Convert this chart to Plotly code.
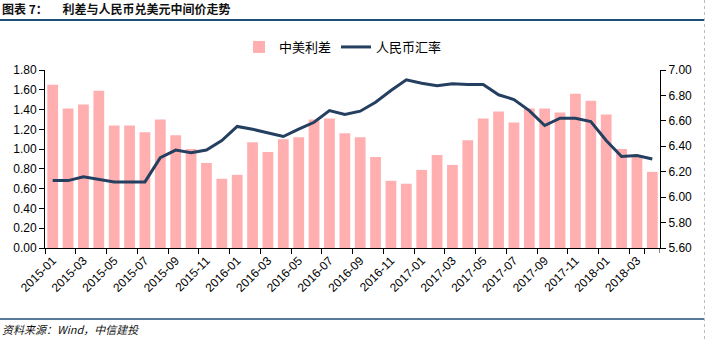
import plotly.graph_objects as go

months = [f"{y}-{m:02d}" for y in (2015, 2016, 2017, 2018) for m in range(1, 13)][:40]

spread = [1.65, 1.41, 1.45, 1.59, 1.24, 1.24, 1.17, 1.30, 1.14, 1.00,
          0.86, 0.70, 0.74, 1.07, 0.97, 1.10, 1.12, 1.30, 1.31, 1.16,
          1.12, 0.92, 0.68, 0.65, 0.79, 0.94, 0.84, 1.09, 1.31, 1.38,
          1.27, 1.41, 1.41, 1.37, 1.56, 1.49, 1.35, 1.00, 0.93, 0.77]

rate = [6.13, 6.13, 6.16, 6.14, 6.12, 6.12, 6.12, 6.31, 6.37, 6.35,
        6.37, 6.445, 6.556, 6.534, 6.506, 6.477, 6.535, 6.589, 6.681, 6.65,
        6.676, 6.747, 6.839, 6.923, 6.896, 6.876, 6.892, 6.886, 6.886, 6.805,
        6.768, 6.681, 6.563, 6.621, 6.62, 6.595, 6.445, 6.32, 6.327, 6.30]

left_ticks = [0.0, 0.2, 0.4, 0.6, 0.8, 1.0, 1.2, 1.4, 1.6, 1.8]
right_ticks = [5.6, 5.8, 6.0, 6.2, 6.4, 6.6, 6.8, 7.0]

title_text = "图表 7：\u2003 利差与人民币兑美元中间价走势"
source_text = "资料来源：Wind，中信建投"

W, H = 709, 341
L, R, T, B = 45, 49, 70, 93
pw, ph = W - L - R, H - T - B

def px(x):
    return (x - L) / pw

def py(y):
    return (H - B - y) / ph

tickfont = dict(family="Liberation Sans, Arial, sans-serif", size=12, color="#000000")

fig = go.Figure()
fig.add_trace(go.Bar(x=months, y=spread, name="中美利差",
                     marker=dict(color="#FFAFAF", line=dict(width=0)),
                     yaxis="y"))
fig.add_trace(go.Scatter(x=months, y=rate, name="人民币汇率", mode="lines",
                         line=dict(color="#243F60", width=3),
                         yaxis="y2"))

fig.update_layout(
    width=W, height=H,
    margin=dict(l=L, r=R, t=T, b=B, pad=0),
    paper_bgcolor="white", plot_bgcolor="white",
    bargap=0.3,
    showlegend=True,
    legend=dict(orientation="h", x=px(343), xanchor="center", y=py(47), yanchor="middle",
                font=dict(family="Noto Sans CJK SC, sans-serif", size=13, color="#000000"),
                bgcolor="rgba(0,0,0,0)", itemwidth=30, traceorder="normal"),
    xaxis=dict(type="category", categoryorder="array", categoryarray=months,
               tickmode="array", tickvals=months[::2], ticktext=months[::2],
               tickangle=-45, tickson="boundaries", ticks="outside", ticklen=5,
               tickcolor="#000000", showline=True, linecolor="#000000", linewidth=1,
               showgrid=False, tickfont=tickfont, range=[-0.5, 39.5]),
    yaxis=dict(range=[0, 1.8], tickvals=left_ticks,
               ticktext=[f"{v:.2f}" for v in left_ticks],
               ticks="outside", ticklen=5, tickcolor="#000000",
               showline=True, linecolor="#000000", linewidth=1,
               showgrid=False, zeroline=False, tickfont=tickfont),
    yaxis2=dict(range=[5.6, 7.0], tickvals=right_ticks,
                ticktext=[f"{v:.2f}" for v in right_ticks],
                overlaying="y", side="right",
                ticks="outside", ticklen=5, tickcolor="#000000",
                showline=True, linecolor="#000000", linewidth=1,
                showgrid=False, zeroline=False, tickfont=tickfont),
)

# closing x-axis tick at the right boundary
fig.add_shape(type="line", xref="x", yref="paper", x0=39.5, x1=39.5,
              y0=0, y1=-5 / ph, line=dict(color="#000000", width=1))

# title and rules
fig.add_annotation(text="<b>" + title_text + "</b>", xref="paper", yref="paper",
                   x=px(0), y=py(9), xanchor="left", yanchor="middle", showarrow=False,
                   font=dict(family="Noto Sans CJK SC, sans-serif", size=12, color="#111111"))
fig.add_shape(type="line", xref="paper", yref="paper", x0=px(0), x1=px(705),
              y0=py(20), y1=py(20), line=dict(color="#1F4E79", width=2))
fig.add_shape(type="line", xref="paper", yref="paper", x0=px(0), x1=px(705),
              y0=py(319), y1=py(319), line=dict(color="#1F4E79", width=1.5))
fig.add_shape(type="line", xref="paper", yref="paper", x0=px(704.5), x1=px(704.5),
              y0=py(0), y1=py(341), line=dict(color="#BBBBBB", width=1, dash="dot"))
fig.add_annotation(text="<i>" + source_text + "</i>", xref="paper", yref="paper",
                   x=px(0), y=py(329), xanchor="left", yanchor="middle", showarrow=False,
                   font=dict(family="Noto Sans CJK SC, serif", size=11, color="#111111"))

fig.write_html("out.html")
